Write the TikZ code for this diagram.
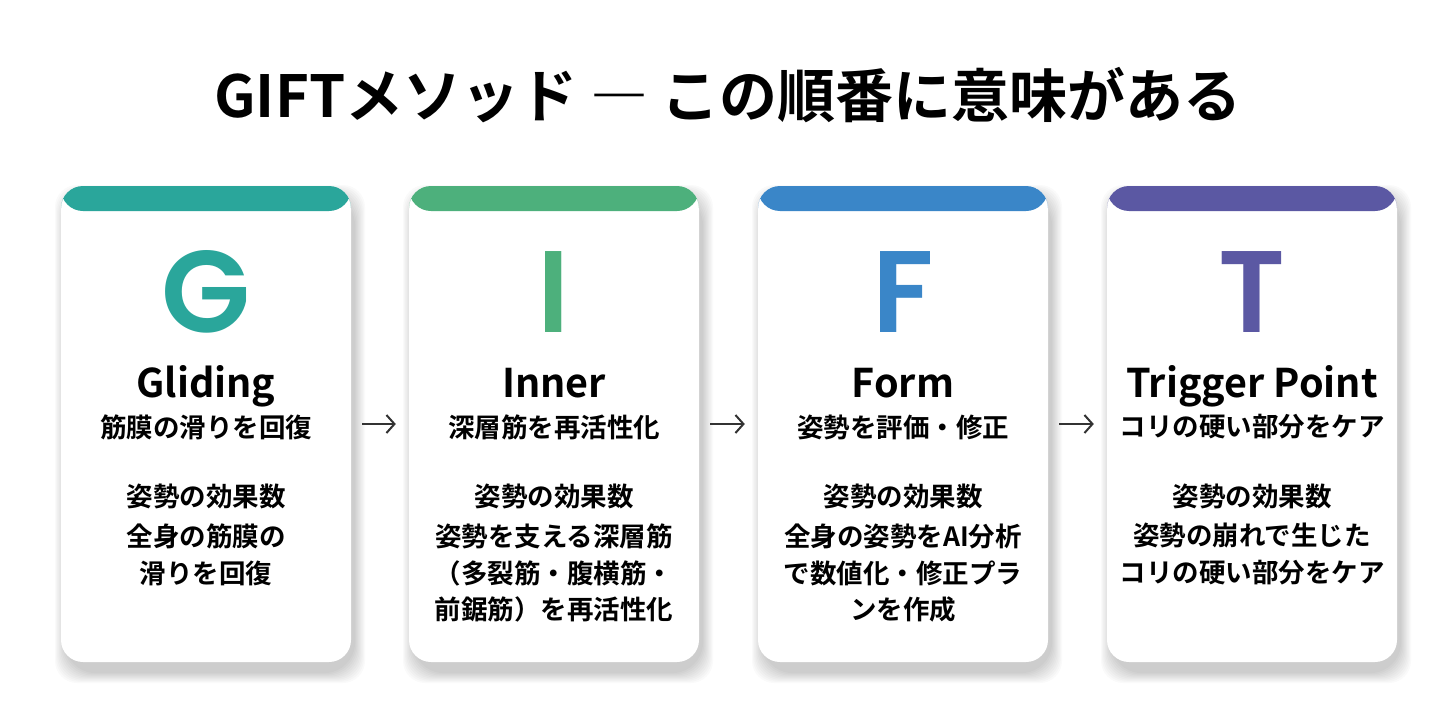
\documentclass[tikz,border=0pt]{standalone}
\usepackage{fontspec}
\setmainfont{Noto Sans CJK JP}[BoldFont={Noto Sans CJK JP Bold}]
\newfontfamily\letterfont{Poppins}[BoldFont={Poppins SemiBold}]
\usetikzlibrary{arrows.meta}
\definecolor{cteal}{HTML}{2AA69B}
\definecolor{cgreen}{HTML}{4DB07C}
\definecolor{cblue}{HTML}{3A86C8}
\definecolor{cpurple}{HTML}{5B58A3}
\definecolor{arrowgray}{HTML}{333333}
\begin{document}
\begin{tikzpicture}[x=1pt,y=-1pt,
  card/.style={draw=none,fill=white,rounded corners=22pt,minimum width=290pt,minimum height=476pt,
    path picture={\fill[#1] (path picture bounding box.north west) rectangle ([yshift=-25pt]path picture bounding box.north east);}},
  bigletter/.style={text=#1,font=\letterfont\bfseries\fontsize{116}{116}\selectfont,anchor=base,inner sep=0pt,text depth=0pt,text height=82pt},
  heading/.style={font=\bfseries\fontsize{39.5}{42}\selectfont,anchor=base,inner sep=0pt,text depth=0pt,text height=28pt},
  line/.style={font=\bfseries\fontsize{26.5}{30}\selectfont,anchor=center,inner sep=0pt},
  flow/.style={draw=arrowgray,line width=2pt,-{Straight Barb[length=8pt,width=18pt,line width=2pt]},shorten <=11pt,shorten >=13pt}
]
\useasboundingbox (0,0) rectangle (1456,720);
\fill[white] (0,0) rectangle (1456,720);

\node[font=\bfseries\fontsize{58}{62}\selectfont,inner sep=0pt] (title) at (728,95) {GIFTメソッド ― この順番に意味がある};

% soft shadows
\foreach \cx in {206,554,903,1252}{
  \foreach \i in {0,...,9}{
    \fill[black,opacity=0.02,rounded corners={22pt+\i pt}]
      ({\cx-145+4-10+1.1*\i},{186+10-11+1.1*\i}) rectangle ({\cx+145+4+10-1.1*\i},{662+10+11-1.1*\i});
  }
}

\node[card=cteal] (c1) at (206,424) {};
\node[card=cgreen] (c2) at (554,424) {};
\node[card=cblue] (c3) at (903,424) {};
\node[card=cpurple] (c4) at (1252,424) {};

% card 1
\node[bigletter=cteal] (g1) at (206,332) {G};
\node[heading] (h1) at (206,397) {Gliding};
\node[line] (s1) at (206,427) {筋膜の滑りを回復};
\node[line] (a1) at (206,496) {姿勢の効果数};
\node[line] (b1) at (206,536) {全身の筋膜の};
\node[line] (d1) at (206,573) {滑りを回復};

% card 2
\node[bigletter=cgreen] (g2) at (554,332) {I};
\node[heading] (h2) at (554,397) {Inner};
\node[line] (s2) at (554,427) {深層筋を再活性化};
\node[line] (a2) at (554,496) {姿勢の効果数};
\node[line] (b2) at (554,536) {姿勢を支える深層筋};
\node[line] (d2) at (554,573) {（多裂筋・腹横筋・};
\node[line] (e2) at (554,609) {前鋸筋）を再活性化};

% card 3
\node[bigletter=cblue] (g3) at (903,332) {F};
\node[heading] (h3) at (903,397) {Form};
\node[line] (s3) at (903,427) {姿勢を評価・修正};
\node[line] (a3) at (903,496) {姿勢の効果数};
\node[line] (b3) at (903,536) {全身の姿勢をAI分析};
\node[line] (d3) at (903,573) {で数値化・修正プラ};
\node[line] (e3) at (903,609) {ンを作成};

% card 4
\node[bigletter=cpurple] (g4) at (1252,332) {T};
\node[heading] (h4) at (1252,397) {Trigger Point};
\node[line] (s4) at (1252,427) {コリの硬い部分をケア};
\node[line] (a4) at (1252,496) {姿勢の効果数};
\node[line] (b4) at (1252,536) {姿勢の崩れで生じた};
\node[line] (d4) at (1252,573) {コリの硬い部分をケア};

\draw[flow] (c1.east) -- (c2.west);
\draw[flow] (c2.east) -- (c3.west);
\draw[flow] (c3.east) -- (c4.west);
\end{tikzpicture}
\end{document}
